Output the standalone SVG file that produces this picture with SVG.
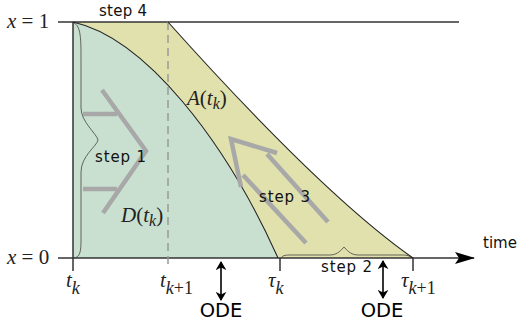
<svg xmlns="http://www.w3.org/2000/svg" width="518" height="322" viewBox="0 0 518 322">
<defs>
<style>
.ax{stroke:#333;stroke-width:1.5;fill:none}
.bd{stroke:#222;stroke-width:1.1;fill:none}
.br{stroke:#444;stroke-width:0.8;fill:none}
.ga{stroke:#a8a8a8;stroke-width:4.5;fill:none;stroke-linecap:butt}
.lbl{font-family:"DejaVu Sans",sans-serif;font-size:15px;fill:#111}
.ode{font-family:"DejaVu Sans",sans-serif;font-size:19.5px;fill:#000}
.m{font-family:"Liberation Serif",serif;font-style:italic;fill:#222}
.mr{font-family:"Liberation Serif",serif;fill:#222}
</style>
<marker id="ah" viewBox="0 0 10 12" refX="9" refY="6" markerWidth="9" markerHeight="11" orient="auto-start-reverse" markerUnits="userSpaceOnUse">
<path d="M0,0 L10,6 L0,12 L3,6 z" fill="#000"/>
</marker>
<marker id="big" viewBox="0 0 20 12" refX="19" refY="6" markerWidth="20" markerHeight="12" orient="auto" markerUnits="userSpaceOnUse">
<path d="M0,0 L20,6 L0,12 L4,6 z" fill="#000"/>
</marker>
</defs>

<g id="regions">
<path id="yellow" d="M73,22 L168,22 C228,89 333,202 413,258 L278,258 C225,140 145,38 73,22 z" fill="#e0e1ac"/>
<path id="green" d="M73,22 C145,38 225,140 278,258 L73,258 z" fill="#c9e0d0"/>
</g>

<g id="connectors">
<line class="ax" x1="58" y1="22" x2="459" y2="22"/>
<line class="ax" x1="58" y1="258" x2="474" y2="258" marker-end="url(#big)"/>
<line class="ax" x1="73" y1="22" x2="73" y2="271"/>
<line x1="168" y1="22" x2="168" y2="269" stroke="#999" stroke-width="1.5" stroke-dasharray="8,5"/>
<line class="ax" x1="280" y1="258" x2="280" y2="271"/>
<line class="ax" x1="413" y1="258" x2="413" y2="271"/>
<path class="bd" d="M73,22 C145,38 225,140 278,258"/>
<path class="bd" d="M168,22 C228,89 333,202 413,258"/>
<path class="br" d="M74,23 C81,26 81,40 81,60 L81,108 C81,122 97,134 98,140 C97,146 81,156 81,172 L81,240 C81,252 80,257 74,258"/>
<path class="br" d="M281,258 C283,255 286,255 292,255 L330,255 C338,255 342,249 344,247 C346,249 350,255 358,255 L400,255 C406,255 409,255 411,258"/>
<line x1="221" y1="262" x2="221" y2="300" stroke="#000" stroke-width="1.6" marker-start="url(#ah)" marker-end="url(#ah)"/>
<line x1="383" y1="261" x2="383" y2="298" stroke="#000" stroke-width="1.6" marker-start="url(#ah)" marker-end="url(#ah)"/>
</g>

<g id="step1-arrows">
<polyline class="ga" points="102,90 146,151 103,213"/>
<line class="ga" x1="83" y1="114" x2="117" y2="114"/>
<line class="ga" x1="83" y1="189" x2="117" y2="189"/>
</g>
<g id="step3-arrows">
<polyline class="ga" points="241,187 231,139 277,153"/>
<line class="ga" x1="243" y1="175" x2="306" y2="243"/>
<line class="ga" x1="267" y1="154" x2="328" y2="222"/>
</g>

<g id="labels">
<text class="lbl" x="99" y="16" textLength="48">step 4</text>
<text class="lbl" x="95" y="162" textLength="51">step 1</text>
<text class="lbl" x="259" y="202" textLength="51">step 3</text>
<text class="lbl" x="321" y="272" textLength="51">step 2</text>
<text class="lbl" x="483" y="248">time</text>
<text class="ode" x="221" y="317" text-anchor="middle">ODE</text>
<text class="ode" x="382" y="317" text-anchor="middle">ODE</text>

<text x="7" y="28" font-size="21"><tspan class="m">x</tspan><tspan class="mr"> = 1</tspan></text>
<text x="7" y="264" font-size="21"><tspan class="m">x</tspan><tspan class="mr"> = 0</tspan></text>

<text x="187" y="105" font-size="21"><tspan class="m">A</tspan><tspan class="mr">(</tspan><tspan class="m">t</tspan><tspan class="m" font-size="16" dy="4">k</tspan><tspan class="mr" dy="-4">)</tspan></text>
<text x="121" y="222" font-size="21"><tspan class="m">D</tspan><tspan class="mr">(</tspan><tspan class="m">t</tspan><tspan class="m" font-size="16" dy="4">k</tspan><tspan class="mr" dy="-4">)</tspan></text>

<text x="66" y="287" font-size="21"><tspan class="m">t</tspan><tspan class="m" font-size="18" dy="7">k</tspan></text>
<text x="160" y="287" font-size="21"><tspan class="m">t</tspan><tspan class="m" font-size="18" dy="7">k</tspan><tspan class="mr" font-size="18">+1</tspan></text>
<text x="268" y="287" font-size="21"><tspan class="m">τ</tspan><tspan class="m" font-size="18" dy="7">k</tspan></text>
<text x="401" y="287" font-size="21"><tspan class="m">τ</tspan><tspan class="m" font-size="18" dy="7">k</tspan><tspan class="mr" font-size="18">+1</tspan></text>
</g>
</svg>
